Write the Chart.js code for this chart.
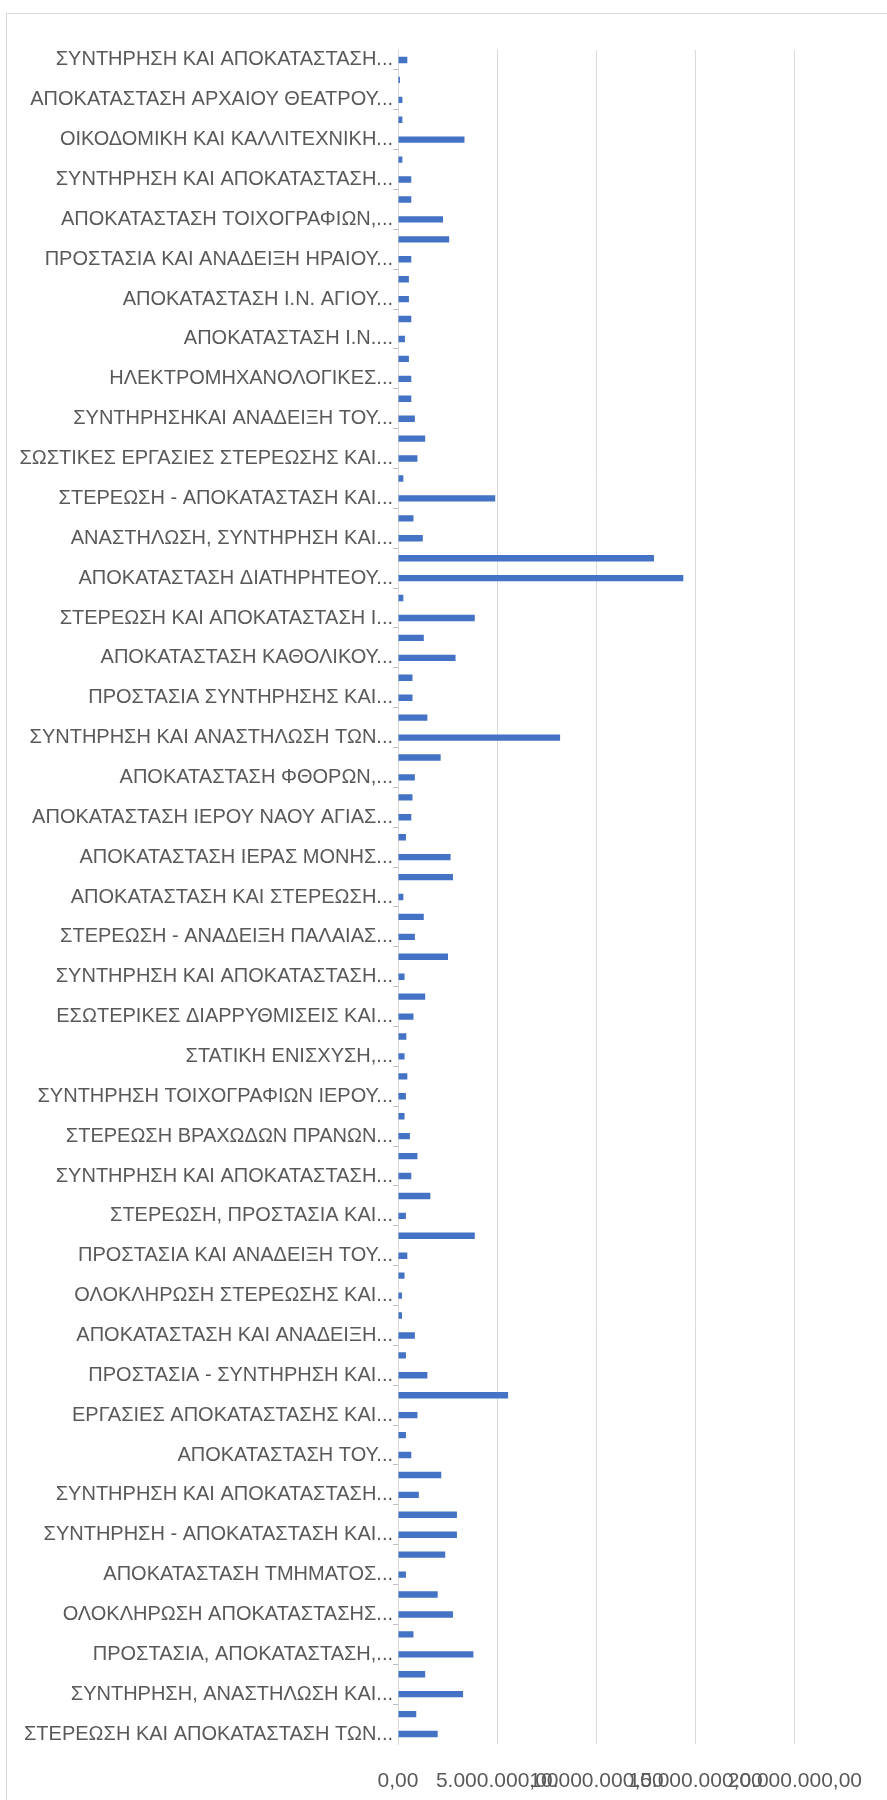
<!DOCTYPE html>
<html>
<head>
<meta charset="utf-8">
<script src="https://cdn.jsdelivr.net/npm/chart.js@4"></script>
<style>
  html, body { margin: 0; padding: 0; background: #fff; overflow: hidden; }
  #frame {
    position: absolute; left: 6px; top: 13px;
    width: 1000px; height: 2000px;
    border: 1px solid #d9d9d9;
  }
  #chart { display: block; }
</style>
</head>
<body>
<div id="frame">
  <canvas id="chart" width="880" height="1786"></canvas>
</div>
<script>
// Only every second project has its name shown on the axis
const labelledProjects = [
  "ΣΥΝΤΗΡΗΣΗ ΚΑΙ ΑΠΟΚΑΤΑΣΤΑΣΗ...",
  "ΑΠΟΚΑΤΑΣΤΑΣΗ ΑΡΧΑΙΟΥ ΘΕΑΤΡΟΥ...",
  "ΟΙΚΟΔΟΜΙΚΗ ΚΑΙ ΚΑΛΛΙΤΕΧΝΙΚΗ...",
  "ΣΥΝΤΗΡΗΣΗ ΚΑΙ ΑΠΟΚΑΤΑΣΤΑΣΗ...",
  "ΑΠΟΚΑΤΑΣΤΑΣΗ ΤΟΙΧΟΓΡΑΦΙΩΝ,...",
  "ΠΡΟΣΤΑΣΙΑ ΚΑΙ ΑΝΑΔΕΙΞΗ ΗΡΑΙΟΥ...",
  "ΑΠΟΚΑΤΑΣΤΑΣΗ Ι.Ν. ΑΓΙΟΥ...",
  "ΑΠΟΚΑΤΑΣΤΑΣΗ Ι.Ν....",
  "ΗΛΕΚΤΡΟΜΗΧΑΝΟΛΟΓΙΚΕΣ...",
  "ΣΥΝΤΗΡΗΣΗΚΑΙ ΑΝΑΔΕΙΞΗ ΤΟΥ...",
  "ΣΩΣΤΙΚΕΣ ΕΡΓΑΣΙΕΣ ΣΤΕΡΕΩΣΗΣ ΚΑΙ...",
  "ΣΤΕΡΕΩΣΗ - ΑΠΟΚΑΤΑΣΤΑΣΗ ΚΑΙ...",
  "ΑΝΑΣΤΗΛΩΣΗ, ΣΥΝΤΗΡΗΣΗ ΚΑΙ...",
  "ΑΠΟΚΑΤΑΣΤΑΣΗ ΔΙΑΤΗΡΗΤΕΟΥ...",
  "ΣΤΕΡΕΩΣΗ ΚΑΙ ΑΠΟΚΑΤΑΣΤΑΣΗ Ι...",
  "ΑΠΟΚΑΤΑΣΤΑΣΗ ΚΑΘΟΛΙΚΟΥ...",
  "ΠΡΟΣΤΑΣΙΑ ΣΥΝΤΗΡΗΣΗΣ ΚΑΙ...",
  "ΣΥΝΤΗΡΗΣΗ ΚΑΙ ΑΝΑΣΤΗΛΩΣΗ ΤΩΝ...",
  "ΑΠΟΚΑΤΑΣΤΑΣΗ ΦΘΟΡΩΝ,...",
  "ΑΠΟΚΑΤΑΣΤΑΣΗ ΙΕΡΟΥ ΝΑΟΥ ΑΓΙΑΣ...",
  "ΑΠΟΚΑΤΑΣΤΑΣΗ ΙΕΡΑΣ ΜΟΝΗΣ...",
  "ΑΠΟΚΑΤΑΣΤΑΣΗ ΚΑΙ ΣΤΕΡΕΩΣΗ...",
  "ΣΤΕΡΕΩΣΗ - ΑΝΑΔΕΙΞΗ ΠΑΛΑΙΑΣ...",
  "ΣΥΝΤΗΡΗΣΗ ΚΑΙ ΑΠΟΚΑΤΑΣΤΑΣΗ...",
  "ΕΣΩΤΕΡΙΚΕΣ ΔΙΑΡΡΥΘΜΙΣΕΙΣ ΚΑΙ...",
  "ΣΤΑΤΙΚΗ ΕΝΙΣΧΥΣΗ,...",
  "ΣΥΝΤΗΡΗΣΗ ΤΟΙΧΟΓΡΑΦΙΩΝ ΙΕΡΟΥ...",
  "ΣΤΕΡΕΩΣΗ ΒΡΑΧΩΔΩΝ ΠΡΑΝΩΝ...",
  "ΣΥΝΤΗΡΗΣΗ ΚΑΙ ΑΠΟΚΑΤΑΣΤΑΣΗ...",
  "ΣΤΕΡΕΩΣΗ, ΠΡΟΣΤΑΣΙΑ ΚΑΙ...",
  "ΠΡΟΣΤΑΣΙΑ ΚΑΙ ΑΝΑΔΕΙΞΗ ΤΟΥ...",
  "ΟΛΟΚΛΗΡΩΣΗ ΣΤΕΡΕΩΣΗΣ ΚΑΙ...",
  "ΑΠΟΚΑΤΑΣΤΑΣΗ ΚΑΙ ΑΝΑΔΕΙΞΗ...",
  "ΠΡΟΣΤΑΣΙΑ - ΣΥΝΤΗΡΗΣΗ ΚΑΙ...",
  "ΕΡΓΑΣΙΕΣ ΑΠΟΚΑΤΑΣΤΑΣΗΣ ΚΑΙ...",
  "ΑΠΟΚΑΤΑΣΤΑΣΗ ΤΟΥ...",
  "ΣΥΝΤΗΡΗΣΗ ΚΑΙ ΑΠΟΚΑΤΑΣΤΑΣΗ...",
  "ΣΥΝΤΗΡΗΣΗ - ΑΠΟΚΑΤΑΣΤΑΣΗ ΚΑΙ...",
  "ΑΠΟΚΑΤΑΣΤΑΣΗ ΤΜΗΜΑΤΟΣ...",
  "ΟΛΟΚΛΗΡΩΣΗ ΑΠΟΚΑΤΑΣΤΑΣΗΣ...",
  "ΠΡΟΣΤΑΣΙΑ, ΑΠΟΚΑΤΑΣΤΑΣΗ,...",
  "ΣΥΝΤΗΡΗΣΗ, ΑΝΑΣΤΗΛΩΣΗ ΚΑΙ...",
  "ΣΤΕΡΕΩΣΗ ΚΑΙ ΑΠΟΚΑΤΑΣΤΑΣΗ ΤΩΝ..."
];

// budget per project (EUR), top to bottom
const budgets = [
  470000, 100000, 220000, 220000, 3350000, 220000, 670000, 670000, 2270000, 2580000,
  670000, 550000, 550000, 670000, 350000, 550000, 670000, 670000, 850000, 1370000,
  980000, 270000, 4900000, 780000, 1250000, 12900000, 14380000, 270000, 3870000, 1300000,
  2900000, 730000, 730000, 1480000, 8170000, 2150000, 850000, 730000, 670000, 400000,
  2650000, 2770000, 270000, 1300000, 850000, 2520000, 330000, 1370000, 780000, 420000,
  330000, 470000, 400000, 330000, 600000, 980000, 670000, 1630000, 400000, 3870000,
  470000, 330000, 200000, 200000, 850000, 400000, 1480000, 5550000, 980000, 400000,
  670000, 2180000, 1050000, 2970000, 2970000, 2380000, 400000, 2000000, 2770000, 780000,
  3800000, 1370000, 3280000, 920000, 2000000
];

const xTicks = [0, 5000000, 10000000, 15000000, 20000000];

const categories = budgets.map((v, i) => (i % 2 === 0 ? labelledProjects[i / 2] : ""));

function formatEl(v) {
  const parts = v.toFixed(2).split(".");
  parts[0] = parts[0].replace(/\B(?=(\d{3})+(?!\d))/g, ".");
  return parts.join(",");
}

const font = "'Liberation Sans', Arial, sans-serif";

new Chart(document.getElementById("chart"), {
  type: "bar",
  data: {
    labels: categories,
    datasets: [
      {
        data: budgets,
        backgroundColor: "#4472C4",
        barPercentage: 0.32,
        categoryPercentage: 1,
      },
    ],
  },
  options: {
    indexAxis: "y",
    responsive: false,
    animation: false,
    layout: { padding: { top: 36, right: 90, left: 0, bottom: 0 } },
    plugins: {
      legend: { display: false },
      tooltip: { enabled: false },
    },
    scales: {
      x: {
        min: xTicks[0],
        max: xTicks[xTicks.length - 1],
        afterBuildTicks: (scale) => {
          scale.ticks = xTicks.map((v) => ({ value: v }));
        },
        afterFit: (scale) => {
          scale.height = 56;
        },
        grid: { color: "#d9d9d9", drawTicks: false },
        border: { display: false },
        ticks: {
          autoSkip: false,
          maxRotation: 0,
          padding: 25,
          color: "#595959",
          font: { family: font, size: 21 },
          callback: (v) => formatEl(v),
        },
      },
      y: {
        afterFit: (scale) => {
          scale.width = 391;
        },
        grid: {
          drawOnChartArea: false,
          drawTicks: true,
          tickLength: 5,
          color: (ctx) => (ctx.index % 2 === 1 ? "#bfbfbf" : "rgba(0,0,0,0)"),
        },
        border: { display: true, color: "#d9d9d9" },
        ticks: {
          autoSkip: false,
          padding: 0,
          color: "#595959",
          font: { family: font, size: 20 },
        },
      },
    },
  },
});
</script>
</body>
</html>
